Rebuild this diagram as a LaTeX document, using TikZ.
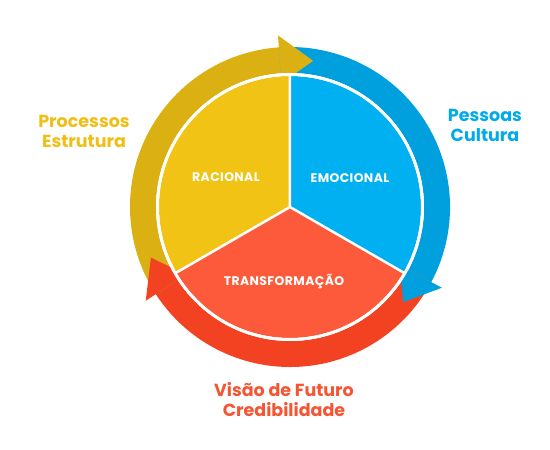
\documentclass[tikz,border=0pt]{standalone}
\usepackage{fontspec}
\setmainfont{Poppins}
\definecolor{ringyellow}{RGB}{219,176,18}
\definecolor{pieyellow}{RGB}{240,195,20}
\definecolor{ringblue}{RGB}{0,160,222}
\definecolor{pieblue}{RGB}{0,176,240}
\definecolor{ringred}{RGB}{242,66,34}
\definecolor{piered}{RGB}{252,90,58}
\definecolor{textyellow}{RGB}{240,190,20}
\definecolor{textblue}{RGB}{0,170,235}
\definecolor{textred}{RGB}{245,85,50}

\begin{document}
\begin{tikzpicture}[x=1pt,y=1pt,
		inner/.style={white,inner sep=0pt,font=\bfseries\fontsize{12.5}{14}\selectfont\addfontfeatures{LetterSpace=3}},
		outer/.style={align=center,inner sep=0pt,font=\bfseries\fontsize{17.5}{20}\selectfont}]
		\useasboundingbox (-290,-243) rectangle (260,207);
		\fill [ringyellow] (213:134) arc [start angle=213, end angle=94, radius=134] -- (94:160) arc [start angle=94, end angle=213, radius=160] -- cycle;
		\fill [ringblue] (94:134) arc [start angle=94, end angle=-28, radius=134] -- (-28:160) arc [start angle=-28, end angle=94, radius=160] -- cycle;
		\fill [ringred] (-28:134) arc [start angle=-28, end angle=-147, radius=134] -- (-147:160) arc [start angle=-147, end angle=-28, radius=160] -- cycle;
		\fill [ringyellow] (94:124) -- (81:148) -- (94:172) -- cycle;
		\fill [ringblue] (-28:124) -- (-40:148) -- (-28:172) -- cycle;
		\fill [ringred] (-147:124) -- (-160:148) -- (-147:172) -- cycle;
		\fill [pieyellow] (0,0) -- (90:131) arc [start angle=90, end angle=210, radius=131] -- cycle;
		\fill [pieblue] (0,0) -- (-30:131) arc [start angle=-30, end angle=90, radius=131] -- cycle;
		\fill [piered] (0,0) -- (210:131) arc [start angle=210, end angle=330, radius=131] -- cycle;
		\draw [white, line width=3pt] (0,0) circle (132.5);
		\draw [white, line width=2.5pt] (0,0) -- (90:133) (0,0) -- (210:133) (0,0) -- (-30:133);
		\node [inner] (racional) at (-64,30) {RACIONAL};
		\node [inner] (emocional) at (60,29) {EMOCIONAL};
		\node [inner] (transf) at (-6,-75) {TRANSFORMAÇÃO};
		\node [outer, textyellow] (processos) at (-206,76) {Processos\\Estrutura};
		\node [outer, textblue] (pessoas) at (195,82) {Pessoas\\Cultura};
		\node [outer, textred] (visao) at (-6,-193) {Visão de Futuro\\Credibilidade};
	\end{tikzpicture}
\end{document}
